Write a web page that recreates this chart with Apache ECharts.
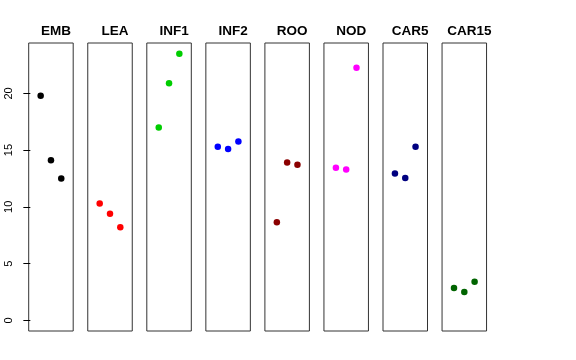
<!DOCTYPE html>
<html>
<head>
<meta charset="utf-8">
<script src="https://cdn.jsdelivr.net/npm/echarts@6/dist/echarts.min.js"></script>
<style>html,body{margin:0;padding:0;background:#fff;}#c{width:576px;height:360px;}</style>
</head>
<body>
<div id="c"></div>
<script>
const categories = ['EMB','LEA','INF1','INF2','ROO','NOD','CAR5','CAR15'];
const colors = ['#000000','#FF0000','#00CD00','#0000FF','#8B0000','#FF00FF','#000080','#006400'];
const xPositions = [1, 2, 3];
const values = {
  EMB:   [19.8, 14.1, 12.5],
  LEA:   [10.3, 9.4, 8.2],
  INF1:  [17.0, 20.9, 23.5],
  INF2:  [15.3, 15.1, 15.75],
  ROO:   [8.65, 13.9, 13.7],
  NOD:   [13.45, 13.3, 22.25],
  CAR5:  [12.95, 12.55, 15.3],
  CAR15: [2.85, 2.5, 3.4]
};
const yTicks = [0, 5, 10, 15, 20];
const yMin = -0.94, yMax = 24.44;
const xMin = -0.16, xMax = 4.16;

const font = 'Liberation Sans, Arial, Helvetica, sans-serif';
const left0 = 28.7, step = 59.05, panelW = 44.5, panelTop = 43, panelH = 288;

const grid = [], xAxis = [], yAxis = [], series = [], title = [];
categories.forEach((cat, i) => {
  const l = left0 + step * i;
  grid.push({left: l, top: panelTop, width: panelW, height: panelH, show: true, borderColor: '#333', borderWidth: 1, backgroundColor: 'transparent'});
  xAxis.push({gridIndex: i, type: 'value', min: xMin, max: xMax, show: false});
  yAxis.push({
    gridIndex: i, type: 'value', min: yMin, max: yMax, show: i === 0,
    splitLine: {show: false},
    axisLine: {show: false},
    axisTick: {show: true, inside: false, length: 7, lineStyle: {color: '#000'}, customValues: yTicks},
    axisLabel: {show: true, rotate: 90, margin: 14, fontSize: 11, color: '#000', fontFamily: font, customValues: yTicks}
  });
  series.push({
    type: 'scatter', xAxisIndex: i, yAxisIndex: i,
    symbol: 'circle', symbolSize: 6.5,
    itemStyle: {color: colors[i], opacity: 1},
    data: xPositions.map((x, k) => [x, values[cat][k]]),
    silent: true
  });
  title.push({
    text: cat, left: l + panelW / 2, top: 19, textAlign: 'center',
    textStyle: {fontSize: 13.5, fontWeight: 'bold', color: '#000', fontFamily: font}
  });
});

const chart = echarts.init(document.getElementById('c'), null, {renderer: 'canvas'});
chart.setOption({animation: false, title, grid, xAxis, yAxis, series});
</script>
</body>
</html>
